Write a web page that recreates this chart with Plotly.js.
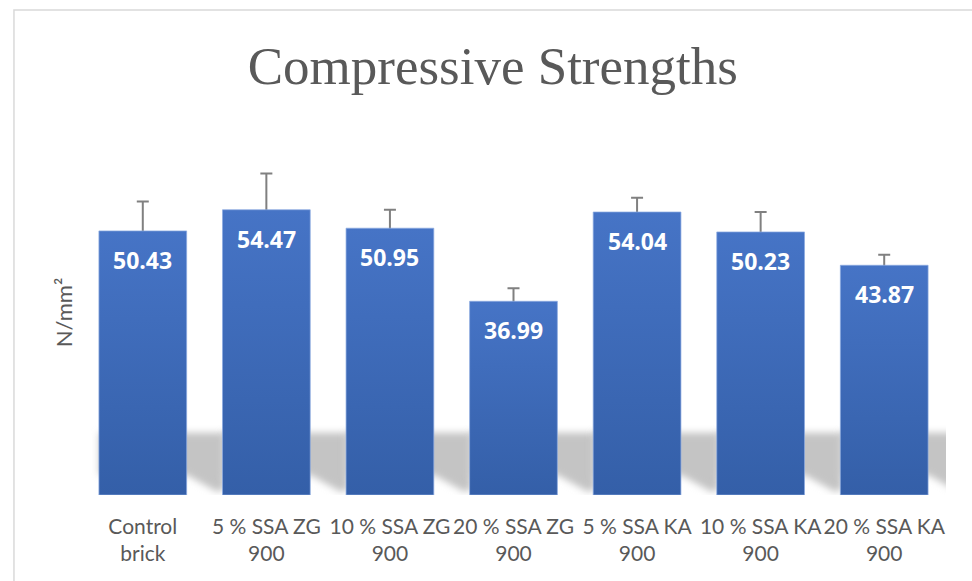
<!DOCTYPE html>
<html>
<head>
<meta charset="utf-8">
<script src="https://cdn.plot.ly/plotly-3.0.1.min.js"></script>
<style>
  html, body { margin: 0; padding: 0; background: #ffffff; }
  #chart { width: 972px; height: 581px; }
</style>
</head>
<body>
<div id="chart"></div>
<script>
// ---- data ----
const categories = [
  "Control<br>brick",
  "5 % SSA ZG<br>900",
  "10 % SSA ZG<br>900",
  "20 % SSA ZG<br>900",
  "5 % SSA KA<br>900",
  "10 % SSA KA<br>900",
  "20 % SSA KA<br>900"
];
const strengths = [50.43, 54.47, 50.95, 36.99, 54.04, 50.23, 43.87];
const errorsUp = [5.6, 6.9, 3.5, 2.5, 2.7, 3.8, 2.0];
const chartTitle = "Compressive Strengths";
const yTitle = "N/mm²";

// ---- build ----
const idx = categories.map((c, i) => i);
const halfBar = 0.355;

// error bar carrier (drawn beneath the visible bars)
const errTrace = {
  type: "bar",
  x: idx,
  y: strengths,
  width: 0.71,
  marker: { color: "rgba(0,0,0,0)" },
  error_y: {
    type: "data",
    symmetric: false,
    array: errorsUp,
    arrayminus: strengths,
    color: "#808080",
    thickness: 2,
    width: 6
  },
  hoverinfo: "skip",
  showlegend: false
};

const barTrace = {
  type: "bar",
  x: idx,
  y: strengths,
  width: 0.71,
  marker: { color: "#4169B8", line: { width: 0.8, color: "rgba(140,170,225,0.9)" } },
  hoverinfo: "x+y",
  showlegend: false
};

// shadow shapes (one per bar, cast to the right)
const shapes = idx.map(i => ({
  type: "path",
  xref: "x", yref: "y",
  layer: "below",
  path: "M " + (i - halfBar) + " 11.9 L " + (i + 0.66) + " 11.9 L " + (i + 0.66) + " 1.0 L " +
        (i + 0.6) + " 0.6 L " + (i + halfBar) + " 3.8 L " + (i - halfBar) + " 3.8 Z",
  fillcolor: "rgb(196,196,196)",
  line: { width: 0 }
}));

// chart border (light grey frame, extending past the right/bottom edge)
shapes.push({
  type: "rect",
  xref: "paper", yref: "paper",
  x0: -0.0775, x1: 1.2, y0: -0.5, y1: 1.3288,
  line: { color: "#d9d9d9", width: 1.5 },
  fillcolor: "rgba(0,0,0,0)",
  layer: "below"
});

const annotations = idx.map(i => ({
  x: i, y: strengths[i],
  xref: "x", yref: "y",
  text: strengths[i].toFixed(2),
  showarrow: false,
  yshift: -29,
  font: { family: "Open Sans, sans-serif", size: 23, color: "#ffffff", weight: "bold" }
}));

const layout = {
  width: 972, height: 581,
  margin: { l: 81, r: 26, t: 130, b: 86 },
  paper_bgcolor: "#ffffff",
  plot_bgcolor: "rgba(0,0,0,0)",
  barmode: "overlay",
  title: {
    text: chartTitle,
    font: { family: "Liberation Serif, serif", size: 53, color: "#595959" },
    x: 0.507, xanchor: "center",
    y: 0.888, yref: "container", yanchor: "middle"
  },
  xaxis: {
    range: [-0.5, 6.5],
    tickvals: idx,
    ticktext: categories,
    tickangle: 0,
    showgrid: false,
    zeroline: false,
    showline: false,
    ticks: "",
    ticklabelstandoff: 17,
    tickfont: { family: "Lato, sans-serif", size: 21, color: "#595959" },
    fixedrange: true
  },
  yaxis: {
    range: [0, 69.7],
    showgrid: false,
    zeroline: false,
    showline: false,
    showticklabels: false,
    ticks: "",
    title: {
      text: yTitle,
      standoff: 1,
      font: { family: "Lato, sans-serif", size: 22, color: "#595959" }
    },
    fixedrange: true
  },
  shapes: shapes,
  annotations: annotations
};

Plotly.newPlot("chart", [errTrace, barTrace], layout, { displayModeBar: false, staticPlot: true }).then(gd => {
  const svg = gd.querySelector("svg.main-svg");
  const ns = "http://www.w3.org/2000/svg";
  let defs = svg.querySelector("defs");
  if (!defs) { defs = document.createElementNS(ns, "defs"); svg.insertBefore(defs, svg.firstChild); }
  // gradient for bars
  const grad = document.createElementNS(ns, "linearGradient");
  grad.setAttribute("id", "barGrad");
  grad.setAttribute("x1", "0"); grad.setAttribute("y1", "0");
  grad.setAttribute("x2", "0"); grad.setAttribute("y2", "1");
  [["0", "#4674C6"], ["1", "#345FA8"]].forEach(([o, c]) => {
    const s = document.createElementNS(ns, "stop");
    s.setAttribute("offset", o); s.setAttribute("stop-color", c);
    grad.appendChild(s);
  });
  defs.appendChild(grad);
  // blur filter for shadow
  const filt = document.createElementNS(ns, "filter");
  filt.setAttribute("id", "shadowBlur");
  filt.setAttribute("x", "-20%"); filt.setAttribute("y", "-20%");
  filt.setAttribute("width", "140%"); filt.setAttribute("height", "140%");
  const blur = document.createElementNS(ns, "feGaussianBlur");
  blur.setAttribute("stdDeviation", "3.5");
  filt.appendChild(blur);
  defs.appendChild(filt);

  const traces = gd.querySelectorAll("g.trace.bars");
  const visible = traces[traces.length - 1];
  visible.querySelectorAll("path").forEach(p => { p.style.fill = "url(#barGrad)"; });

  gd.querySelectorAll(".shapelayer path").forEach(p => {
    if ((p.style.fill || "").indexOf("196") >= 0) {
      p.setAttribute("filter", "url(#shadowBlur)");
    }
  });
});
</script>
</body>
</html>
